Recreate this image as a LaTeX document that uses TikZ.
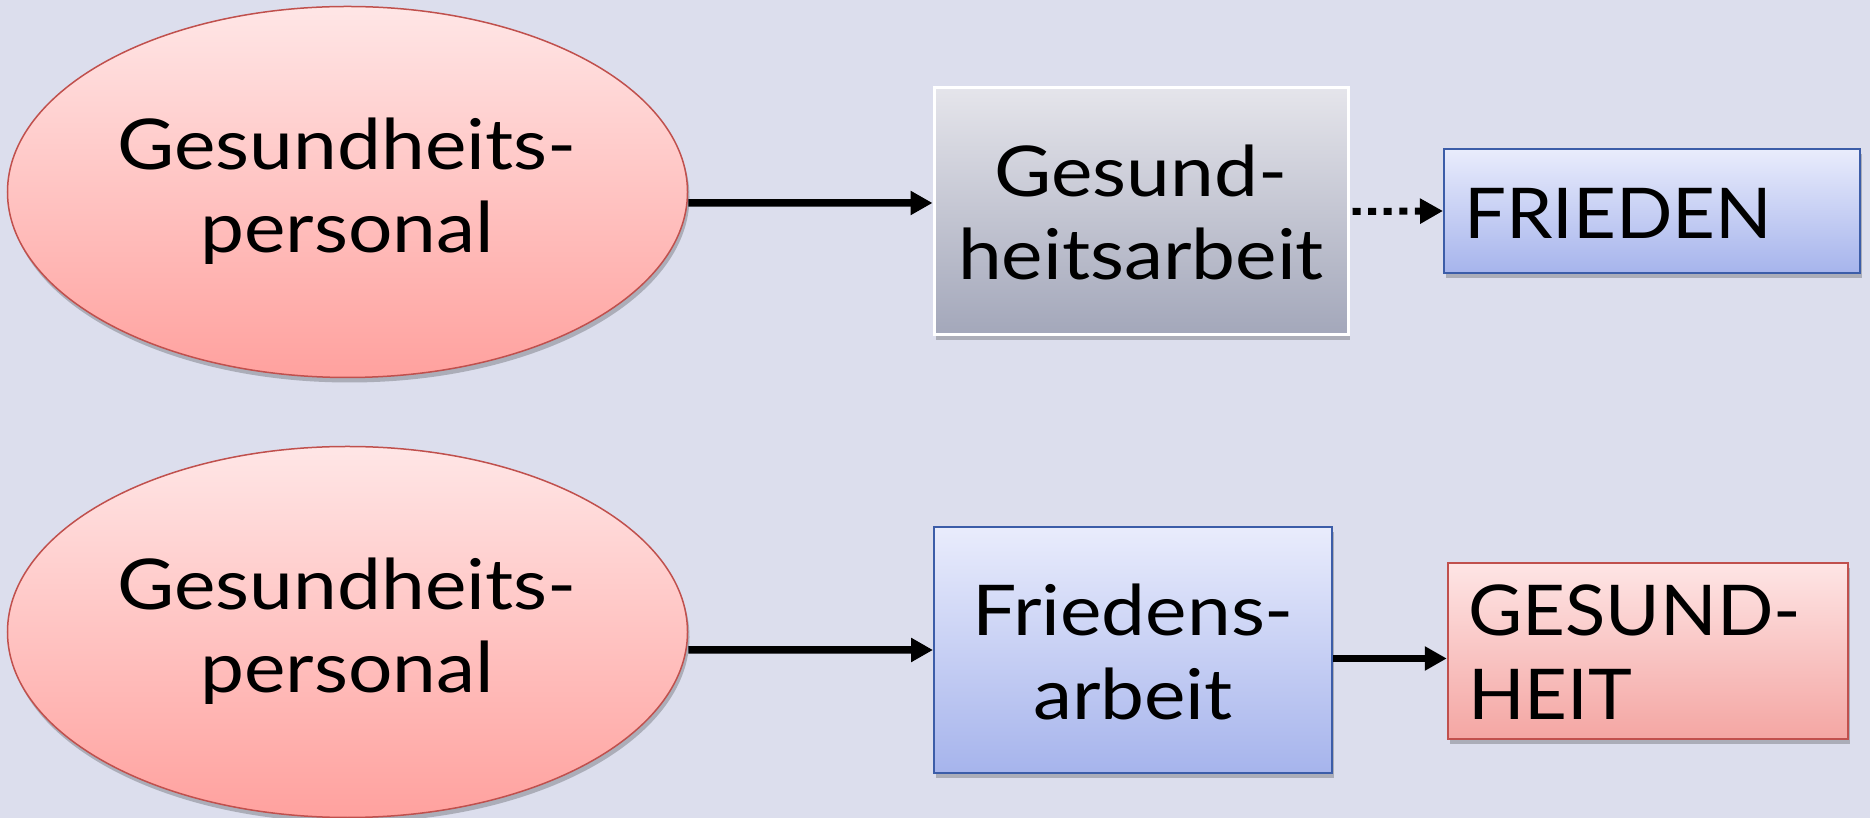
\documentclass[tikz,border=0pt]{standalone}
\usepackage{graphicx}
\usepackage{fontspec}
\setmainfont{Lato}
\usetikzlibrary{shapes.geometric,arrows.meta,shadows}
\definecolor{bgc}{RGB}{220,222,237}
\definecolor{redtop}{RGB}{255,230,230}
\definecolor{redbot}{RGB}{255,161,158}
\definecolor{redline}{RGB}{192,80,77}
\definecolor{graytop}{RGB}{229,229,235}
\definecolor{graybot}{RGB}{163,167,186}
\definecolor{bluetop}{RGB}{233,236,252}
\definecolor{bluebot}{RGB}{166,180,236}
\definecolor{blueline}{RGB}{60,93,168}
\definecolor{pinktop}{RGB}{254,229,229}
\definecolor{pinkbot}{RGB}{244,166,163}
\newcommand\lw[1]{\scalebox{1.12}[1]{#1}}
\newcommand\up[1]{\scalebox{1.06}[1]{#1}}
\begin{document}
\begin{tikzpicture}[x=1bp,y=1bp,
  shad/.style={drop shadow={shadow xshift=2bp,shadow yshift=-5bp,opacity=0.22,fill=black}},
  ovalbox/.style={ellipse,inner sep=0,minimum width=680bp,minimum height=371bp,
     draw=redline,line width=1.5bp,top color=redtop,bottom color=redbot,shad},
  graybox/.style={rectangle,inner sep=0,draw=white,line width=3bp,top color=graytop,bottom color=graybot,shad},
  bluebox/.style={rectangle,inner sep=0,draw=blueline,line width=2bp,top color=bluetop,bottom color=bluebot,shad},
  pinkbox/.style={rectangle,inner sep=0,draw=redline,line width=2bp,top color=pinktop,bottom color=pinkbot,shad},
  txt/.style={inner sep=0,anchor=base,font=\fontsize{70.3}{84}\selectfont},
  txtl/.style={txt,anchor=base west},
  arr/.style={line width=7.5bp,-{Triangle[length=22bp,width=23bp]}},
  darr/.style={line width=7bp,dash pattern=on 8bp off 7.6bp,-{Triangle[length=23bp,width=24bp]}}
]
\useasboundingbox (0,0) rectangle (1870,818);
\fill[bgc] (0,0) rectangle (1870,818);

\node[ovalbox] (e1) at (347.5,626) {};
\node[ovalbox] (e2) at (347.5,186) {};
\node[graybox,minimum width=414bp,minimum height=247bp] (g) at (1141,606.5) {};
\node[bluebox,minimum width=416bp,minimum height=124bp] (f) at (1652,607) {};
\node[bluebox,minimum width=398bp,minimum height=246bp] (fa) at (1133,168) {};
\node[pinkbox,minimum width=400bp,minimum height=176bp] (h) at (1647.75,167) {};

\node[txt] (e1a) at (347,648) {\lw{Gesundheits-}};
\node[txt] (e1b) at (347,565) {\lw{personal}};
\node[txt] (e2a) at (347,208) {\lw{Gesundheits-}};
\node[txt] (e2b) at (347,125) {\lw{personal}};
\node[txt] (ga) at (1141,621) {\lw{Gesund-}};
\node[txt] (gb) at (1141,538) {\lw{heitsarbeit}};
\node[txtl] (fl) at (1464,579) {\up{FRIEDEN}};
\node[txt] (faa) at (1133,182) {\lw{Friedens-}};
\node[txt] (fab) at (1133,98) {\lw{arbeit}};
\node[txtl] (ha) at (1468,182) {\up{GESUND-}};
\node[txtl] (hb) at (1468,98) {\up{HEIT}};

\draw[arr] ([yshift=-11bp]e1.east) -- ([yshift=8.5bp]g.west);
\draw[darr] ([xshift=3bp]g.east) -- (f.west);
\draw[arr] ([yshift=-18bp]e2.east) -- (fa.west);
\draw[arr] ([yshift=-8.5bp]fa.east) -- ([yshift=-7.5bp]h.west);
\end{tikzpicture}
\end{document}
